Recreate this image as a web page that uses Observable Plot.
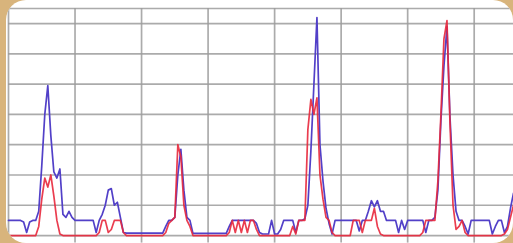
<!DOCTYPE html>
<html>
<head>
<meta charset="utf-8">
<script src="https://cdn.jsdelivr.net/npm/d3@7"></script>
<script src="https://cdn.jsdelivr.net/npm/@observablehq/plot@0.6"></script>
<style>
  html, body { margin: 0; padding: 0; }
  body { width: 513px; height: 243px; background: #d8b47c; position: relative; overflow: hidden; font-family: "DejaVu Sans", sans-serif; }
  #card { position: absolute; left: 6px; top: 0; width: 507px; height: 243px; background: #fff; border-radius: 20px; overflow: hidden; }
  #card svg { display: block; filter: blur(0.4px); }
</style>
</head>
<body>
<div id="card"></div>
<script>
// Sample index (one sample ≈ 3 px), 22 samples between vertical gridlines
const xTicks = [0, 22, 44, 66, 88, 110, 132, 154];
const yTicks = [0, 1, 2, 3, 4, 5, 6, 7];
const yTop = 7.5;

const blueValues = [
  0.5,0.5,0.5,0.5,0.5,0.45,0.1,0.45,0.5,0.5,
  0.8,2.3,4.0,4.95,3.3,2.1,1.9,2.2,0.7,0.6,
  0.8,0.6,0.5,0.5,0.5,0.5,0.5,0.5,0.5,0.1,
  0.5,0.7,1.0,1.5,1.55,1.0,1.1,0.6,0.1,0.08,
  0.08,0.08,0.08,0.08,0.08,0.08,0.08,0.08,0.08,0.08,
  0.08,0.08,0.3,0.5,0.5,0.6,2.0,2.85,1.5,0.6,
  0.5,0.07,0.07,0.07,0.07,0.07,0.07,0.07,0.07,0.07,
  0.07,0.07,0.07,0.3,0.5,0.5,0.5,0.5,0.5,0.5,
  0.5,0.5,0.4,0.1,0.05,0.05,0.05,0.5,0.05,0.05,
  0.2,0.5,0.5,0.5,0.5,0.1,0.5,0.5,0.55,1.0,
  2.8,5.0,7.2,3.0,1.8,0.9,0.4,0.05,0.5,0.5,
  0.5,0.5,0.5,0.5,0.5,0.5,0.15,0.5,0.5,0.8,
  1.15,0.95,1.15,0.8,0.8,0.5,0.5,0.5,0.5,0.1,
  0.5,0.2,0.5,0.5,0.5,0.5,0.5,0.5,0.1,0.5,
  0.5,0.6,1.5,3.8,5.6,6.9,3.9,2.0,0.8,0.5,
  0.5,0.3,0.05,0.5,0.5,0.5,0.5,0.5,0.5,0.5,
  0.05,0.3,0.5,0.5,0.1,0.3,0.9,1.4
];

const redValues = [
  0,0,0,0,0,0,0,0,0,0,
  0.3,1.2,1.9,1.6,2.0,1.3,0.5,0.05,0,0,
  0,0,0,0,0,0,0,0,0,0,
  0.1,0.5,0.5,0.1,0.2,0.5,0.5,0.5,0.1,0,
  0,0,0,0,0,0,0,0,0,0,
  0,0,0.1,0.4,0.5,0.6,3.0,2.6,1.0,0.5,
  0.3,0,0,0,0,0,0,0,0,0,
  0,0,0,0.1,0.5,0.1,0.5,0.1,0.5,0.1,
  0.5,0.5,0.2,0,0,0,0,0,0,0,
  0,0,0,0,0.3,0.05,0.5,0.5,0.5,3.5,
  4.5,4.0,4.55,2.0,1.2,0.6,0.5,0.1,0,0,
  0,0,0,0,0.5,0.5,0.5,0.1,0.5,0.5,
  0.5,0.9,0.3,0.05,0,0,0,0,0,0,
  0,0,0,0,0,0,0,0.1,0.5,0.5,
  0.5,0.5,1.8,4.0,6.5,7.1,3.7,1.0,0.2,0.3,
  0.5,0.1,0,0,0,0,0,0,0,0,
  0,0,0,0,0.05,0.2,0.6,1.0
];

const blue = blueValues.map((v, i) => ({i, v}));
const red = redValues.map((v, i) => ({i, v}));

const grid = {stroke: "#9c9c9c", strokeWidth: 1.7, strokeOpacity: 0.85};

const chart = Plot.plot({
  width: 507,
  height: 243,
  marginLeft: 2,
  marginRight: 0,
  marginTop: 8,
  marginBottom: 0.4,
  x: {domain: [0, 167], axis: null},
  y: {domain: [-0.25, yTop], axis: null},
  marks: [
    Plot.ruleY(yTicks, grid),
    Plot.ruleY([yTop], grid),
    Plot.ruleX(xTicks, grid),
    Plot.line(blue, {x: "i", y: "v", stroke: "#5240c8", strokeWidth: 1.7}),
    Plot.line(red, {x: "i", y: "v", stroke: "#e8283c", strokeWidth: 1.7, strokeOpacity: 0.9})
  ]
});
document.getElementById("card").appendChild(chart);
</script>
</body>
</html>
